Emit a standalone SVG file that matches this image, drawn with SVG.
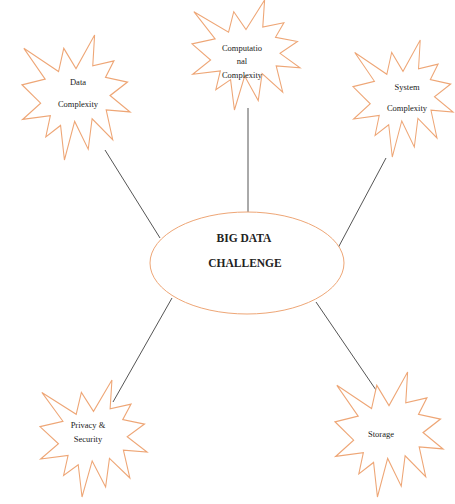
<svg xmlns="http://www.w3.org/2000/svg" width="455" height="504" viewBox="0 0 455 504">
<style>
.star{fill:#ffffff;stroke:#eea676;stroke-width:1}
.lbl{font-family:"Liberation Serif","Times New Roman",serif;font-size:8.5px;fill:#222;text-anchor:middle}
.big{font-family:"Liberation Serif","Times New Roman",serif;font-size:11.5px;font-weight:bold;fill:#222;text-anchor:middle}
.conn{stroke:#555;stroke-width:1;fill:none}
</style>
<defs>
<path id="seal" d="M50,26.85 L67.23,0 L65.53,24.65 L85.09,20.63 L77.32,33.86 L97.67,37.67 L81.51,48.5 L100,61.53 L77.95,59.92 L84,83.77 L64.91,66.93 L61.33,91.38 L48.76,69.14 L39.28,100 L35.72,72.35 L22.05,81.56 L26.24,64.52 L0.63,67.53 L17.23,54.51 L0,39.88 L21.42,35.26 L1.71,10.63 L33.85,29.26 L38.67,10.63 Z"/>
</defs>
<rect width="455" height="504" fill="#ffffff"/>
<g id="connectors">
<line class="conn" x1="105" y1="150" x2="160" y2="238"/>
<line class="conn" x1="248" y1="108" x2="248" y2="212"/>
<line class="conn" x1="386" y1="158" x2="338" y2="248"/>
<line class="conn" x1="172" y1="298" x2="113" y2="402"/>
<line class="conn" x1="316" y1="302" x2="376" y2="390"/>
</g>
<g id="center">
<ellipse cx="247" cy="263" rx="97" ry="51" fill="#ffffff" stroke="#eea676" stroke-width="1"/>
<text class="big" x="244" y="242">BIG DATA</text>
<text class="big" x="245" y="267">CHALLENGE</text>
</g>
<g id="data">
<use href="#seal" class="star" transform="translate(22,35) scale(1.08,1.25)"/>
<text class="lbl" x="78" y="85">Data</text>
<text class="lbl" x="78" y="107">Complexity</text>
</g>
<g id="computational">
<use href="#seal" class="star" transform="translate(192,0) scale(1.08,1.1)"/>
<text class="lbl" x="242" y="51">Computatio</text>
<text class="lbl" x="242" y="64">nal</text>
<text class="lbl" x="242" y="78">Complexity</text>
</g>
<g id="system">
<use href="#seal" class="star" transform="translate(353,40) scale(1.0,1.17)"/>
<text class="lbl" x="407" y="90">System</text>
<text class="lbl" x="407" y="111">Complexity</text>
</g>
<g id="privacy">
<use href="#seal" class="star" transform="translate(40,380) scale(1.07,1.17)"/>
<text class="lbl" x="88" y="428">Privacy &amp;</text>
<text class="lbl" x="88" y="442">Security</text>
</g>
<g id="storage">
<use href="#seal" class="star" transform="translate(335,372) scale(1.08,1.25)"/>
<text class="lbl" x="381" y="437">Storage</text>
</g>
</svg>
